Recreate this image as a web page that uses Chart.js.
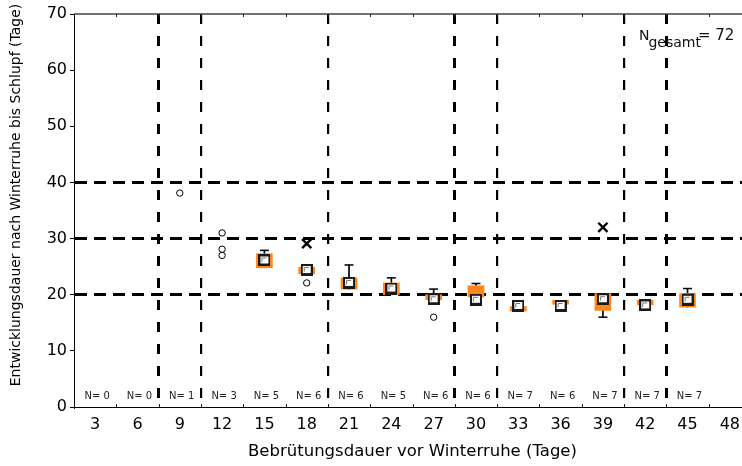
<!DOCTYPE html>
<html>
<head>
<meta charset="utf-8">
<script src="https://cdn.jsdelivr.net/npm/chart.js@4.4.0/dist/chart.umd.min.js"></script>
<style>
  html, body { margin: 0; padding: 0; background: #fff; overflow: hidden; }
  #wrap { position: relative; width: 760px; height: 466px; }
</style>
</head>
<body>
<div id="wrap"><canvas id="chart"></canvas></div>
<script>
// Bebrütungsdauer vor Winterruhe (Tage)
const categories = ['3', '6', '9', '12', '15', '18', '21', '24', '27', '30', '33', '36', '39', '42', '45', '48'];
const counts     = [0, 0, 1, 3, 5, 6, 6, 5, 6, 6, 7, 6, 7, 7, 7, null];

// box (orange), whiskers, centre square
const boxLow      = [null, null, null, null, 24.8, 23.7, 21.0, 20.0, 19.1, 19.6, 17.1, 18.3, 17.2, 18.2, 17.8, null];
const boxHigh     = [null, null, null, null, 27.3, 24.9, 23.0, 22.1, 20.0, 21.6, 17.9, 19.0, 20.2, 19.0, 20.2, null];
const whiskerLow  = [null, null, null, null, null, null, null, null, null, null, null, null, 16.0, null, null, null];
const whiskerHigh = [null, null, null, null, 27.9, null, 25.3, 23.0, 21.0, 22.0, null, null, null, null, 21.1, null];
const centerMark  = [null, null, null, null, 26.1, 24.4, 22.1, 21.1, 19.2, 19.1, 18.0, 18.0, 19.2, 18.1, 19.1, null];

const outliers = [['9', 38.1], ['12', 31.0], ['12', 28.1], ['12', 27.0], ['18', 22.1], ['27', 16.0]];
const extremes = [['18', 29.1], ['39', 32.0]];

const yTicks = [0, 10, 20, 30, 40, 50, 60, 70];
const yRefLines = [20, 30, 40];
const xRefLines = [2, 3, 6, 9, 10, 13, 14];   // category boundaries with dashed lines
const xRefThick = [2, 9, 14];

const yTitle = 'Entwicklungsdauer nach Winterruhe bis Schlupf (Tage)';
const FONT = "'DejaVu Sans', sans-serif";
const ORANGE = '#ff8618';

// square marker with the little inner shading line
function squareMarker() {
  const c = document.createElement('canvas');
  c.width = 12; c.height = 12;
  const g = c.getContext('2d');
  g.fillStyle = '#1a1a1a';
  g.fillRect(0, 0, 12, 12);
  g.fillStyle = '#fff';
  g.fillRect(2, 2, 8, 7);
  g.strokeStyle = '#777';
  g.lineWidth = 1;
  g.beginPath();
  g.moveTo(3.5, 7.5); g.lineTo(3.5, 3.5); g.lineTo(8, 3.5);
  g.stroke();
  return c;
}

const boxData = boxLow.map((lo, i) => lo == null ? null : [lo, boxHigh[i]]);
const whiskerData = boxLow.map((lo, i) => lo == null ? null :
  [whiskerLow[i] ?? lo, whiskerHigh[i] ?? boxHigh[i]]);

const extras = {
  id: 'extras',
  afterDraw(chart) {
    const { ctx, chartArea: a, scales: { x } } = chart;
    ctx.save();
    // top frame line
    ctx.strokeStyle = '#444';
    ctx.lineWidth = 1.5;
    ctx.beginPath();
    ctx.moveTo(a.left, a.top);
    ctx.lineTo(chart.width, a.top);
    ctx.stroke();
    // small inward ticks at category boundaries
    ctx.strokeStyle = '#222';
    ctx.lineWidth = 1;
    for (let k = 1; k < categories.length; k++) {
      const px = Math.round((x.getPixelForValue(k - 1) + x.getPixelForValue(k)) / 2) + 0.5;
      ctx.beginPath();
      ctx.moveTo(px, a.bottom); ctx.lineTo(px, a.bottom - 3);
      ctx.moveTo(px, a.top); ctx.lineTo(px, a.top + 3);
      ctx.stroke();
    }
    // N per category
    ctx.fillStyle = '#222';
    ctx.font = '10px ' + FONT;
    ctx.textAlign = 'center';
    ctx.textBaseline = 'middle';
    counts.forEach((n, i) => {
      if (n == null) return;
      ctx.fillText('N= ' + n, x.getPixelForValue(i) + 2, a.bottom - 11);
    });
    // N gesamt
    const total = counts.reduce((s, n) => s + (n || 0), 0);
    ctx.textAlign = 'left';
    ctx.textBaseline = 'alphabetic';
    ctx.fillStyle = '#111';
    let tx = 639;
    ctx.font = '14px ' + FONT;
    ctx.fillText('N', tx, 40);
    tx += ctx.measureText('N').width - 1;
    ctx.font = '14px ' + FONT;
    ctx.fillText('gesamt', tx, 47);
    tx += ctx.measureText('gesamt').width - 3;
    ctx.font = '15px ' + FONT;
    ctx.fillText('= ' + total, tx, 40);
    // y axis title
    ctx.fillStyle = '#000';
    ctx.font = '14px ' + FONT;
    ctx.textAlign = 'center';
    ctx.textBaseline = 'middle';
    ctx.translate(16, 195);
    ctx.rotate(-Math.PI / 2);
    ctx.fillText(yTitle, 0, 0);
    ctx.restore();
  }
};

new Chart(document.getElementById('chart'), {
  type: 'bar',
  data: {
    labels: categories,
    datasets: [
      { type: 'bar', data: whiskerData, backgroundColor: '#000', barThickness: 1, grouped: false, order: 6 },
      { type: 'line', data: whiskerHigh, showLine: false, pointStyle: 'line', pointRadius: 4.5,
        borderColor: '#000', pointBorderWidth: 1.5, order: 5 },
      { type: 'line', data: whiskerLow, showLine: false, pointStyle: 'line', pointRadius: 4.5,
        borderColor: '#000', pointBorderWidth: 1.5, order: 5 },
      { type: 'bar', data: boxData, backgroundColor: ORANGE, barThickness: 16, grouped: false, order: 4 },
      { type: 'line', data: outliers.map(([x, y]) => ({ x, y })), showLine: false, pointStyle: 'circle',
        pointRadius: 3.2, pointBackgroundColor: '#fff', pointBorderColor: '#000', pointBorderWidth: 1, order: 3 },
      { type: 'line', data: centerMark, showLine: false, pointStyle: squareMarker(), order: 2 },
      { type: 'line', data: extremes.map(([x, y]) => ({ x, y })), showLine: false, pointStyle: 'crossRot',
        pointRadius: 6.5, pointBorderColor: '#000', pointBorderWidth: 2.4, order: 1 }
    ]
  },
  options: {
    responsive: true,
    maintainAspectRatio: false,
    animation: false,
    layout: { padding: { top: 14, right: 9, left: 0, bottom: 0 } },
    plugins: { legend: { display: false }, tooltip: { enabled: false } },
    scales: {
      x: {
        type: 'category',
        offset: true,
        grid: {
          offset: true,
          drawTicks: false,
          color: c => xRefLines.includes(c.index) ? '#000' : 'rgba(0,0,0,0)',
          lineWidth: c => xRefThick.includes(c.index) ? 3 : 2.2
        },
        border: { display: true, color: '#000', width: 1, dash: [10, 12] },
        ticks: { color: '#000', font: { family: FONT, size: 16 }, padding: 8, autoSkip: false, maxRotation: 0 },
        title: { display: true, text: 'Bebrütungsdauer vor Winterruhe (Tage)', color: '#000',
                 font: { family: FONT, size: 16.5 }, padding: { top: 2, bottom: 4 } },
        afterFit: s => { s.height = 59; }
      },
      y: {
        min: 0, max: 70,
        afterBuildTicks: s => { s.ticks = yTicks.map(v => ({ value: v })); },
        grid: {
          color: c => yRefLines.includes(c.tick && c.tick.value) ? '#000' : 'rgba(0,0,0,0)',
          lineWidth: 3,
          drawTicks: true, tickLength: 4, tickColor: '#000', tickWidth: 1
        },
        border: { display: true, color: '#000', width: 1, dash: [12, 7] },
        ticks: { color: '#000', font: { family: FONT, size: 16 }, padding: 3 },
        title: { display: false },
        afterFit: s => { s.width = 74; }
      }
    }
  },
  plugins: [extras]
});
</script>
</body>
</html>
